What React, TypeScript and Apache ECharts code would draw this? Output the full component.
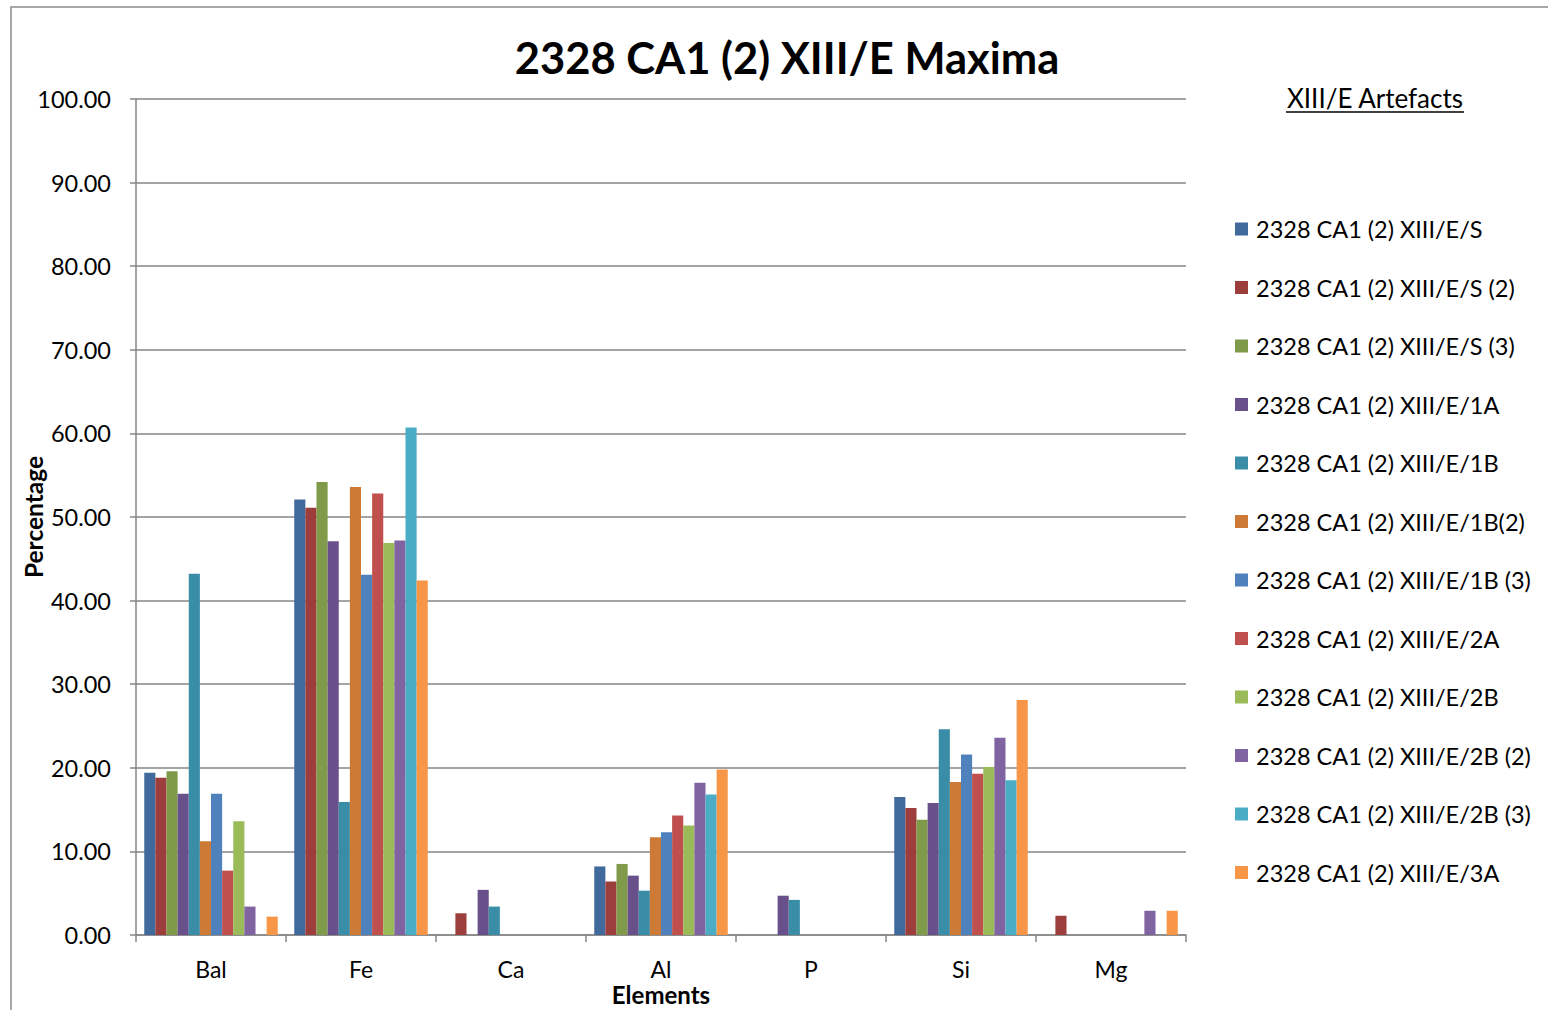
import React, { useEffect, useRef } from "react";
import * as echarts from "echarts";

const categories = ["Bal", "Fe", "Ca", "Al", "P", "Si", "Mg"];
const seriesNames = [
  "2328 CA1 (2) XIII/E/S",
  "2328 CA1 (2) XIII/E/S (2)",
  "2328 CA1 (2) XIII/E/S (3)",
  "2328 CA1 (2) XIII/E/1A",
  "2328 CA1 (2) XIII/E/1B",
  "2328 CA1 (2) XIII/E/1B(2)",
  "2328 CA1 (2) XIII/E/1B (3)",
  "2328 CA1 (2) XIII/E/2A",
  "2328 CA1 (2) XIII/E/2B",
  "2328 CA1 (2) XIII/E/2B (2)",
  "2328 CA1 (2) XIII/E/2B (3)",
  "2328 CA1 (2) XIII/E/3A",
];
const valS = [19.4, 52.1, 0, 8.2, 0, 16.5, 0];
const valS2 = [18.8, 51.1, 2.6, 6.4, 0, 15.2, 2.3];
const valS3 = [19.6, 54.2, 0, 8.5, 0, 13.8, 0];
const val1A = [16.9, 47.1, 5.4, 7.1, 4.7, 15.8, 0];
const val1B = [43.2, 15.9, 3.4, 5.3, 4.2, 24.6, 0];
const val1B2 = [11.2, 53.6, 0, 11.7, 0, 18.3, 0];
const val1B3 = [16.9, 43.1, 0, 12.3, 0, 21.6, 0];
const val2A = [7.7, 52.8, 0, 14.3, 0, 19.3, 0];
const val2B = [13.6, 46.9, 0, 13.1, 0, 20.1, 0];
const val2B2 = [3.4, 47.2, 0, 18.2, 0, 23.6, 2.9];
const val2B3 = [0, 60.7, 0, 16.8, 0, 18.5, 0];
const val3A = [2.2, 42.4, 0, 19.8, 0, 28.1, 2.9];
const seriesValues = [valS, valS2, valS3, val1A, val1B, val1B2, val1B3, val2A, val2B, val2B2, val2B3, val3A];
const colors = [
  "#3F6A9B", "#9C3E3C", "#7F9A49", "#68518A", "#3A8DA6", "#CC7A35",
  "#4F81BD", "#C0504D", "#9BBB59", "#8064A2", "#4BACC6", "#F79646",
];

const FONT = "Lato, 'Open Sans', sans-serif";

export default function App() {
  const ref = useRef<HTMLDivElement>(null);
  useEffect(() => {
    if (!ref.current) return;
    const chart = echarts.init(ref.current, null, { renderer: "svg" });
    chart.setOption({
      animation: false,
      backgroundColor: "#ffffff",
      color: colors,
      grid: { left: 136, top: 99, width: 1050, height: 836, containLabel: false },
      legend: {
        orient: "vertical",
        left: 1235,
        top: 217,
        padding: 0,
        itemWidth: 13,
        itemHeight: 13,
        itemGap: 34.5,
        icon: "rect",
        textStyle: { fontFamily: FONT, fontSize: 23.5, color: "#000", lineHeight: 23, padding: [0, 0, 0, 3] },
        data: seriesNames,
      },
      xAxis: {
        type: "category",
        data: categories,
        axisLine: { lineStyle: { color: "#868686", width: 1.5 } },
        axisTick: { show: true, length: 7, lineStyle: { color: "#868686", width: 1.5 } },
        axisLabel: { fontFamily: FONT, fontSize: 23, color: "#000", margin: 22 },
        splitLine: { show: false },
      },
      yAxis: {
        type: "value",
        min: 0,
        max: 100,
        interval: 10,
        axisLine: { show: true, lineStyle: { color: "#868686", width: 1.5 } },
        axisTick: { show: true, length: 6, lineStyle: { color: "#868686", width: 1.5 } },
        axisLabel: {
          fontFamily: FONT,
          fontSize: 23.5,
          color: "#000",
          margin: 25,
          formatter: (v: number) => v.toFixed(2),
        },
        splitLine: { show: true, lineStyle: { color: "#868686", width: 1.5 } },
      },
      series: seriesNames.map((name, i) => ({
        name,
        type: "bar",
        data: seriesValues[i],
        barGap: "0%",
        barCategoryGap: "11%",
        itemStyle: { color: colors[i] },
      })),
      graphic: [
        {
          type: "rect",
          shape: { x: 11, y: 7, width: 3000, height: 3000 },
          style: { fill: "none", stroke: "#8a8a8a", lineWidth: 1.5 },
          silent: true,
        },
        {
          type: "text",
          x: 787,
          y: 57,
          style: {
            text: "2328 CA1 (2) XIII/E Maxima",
            fontFamily: FONT,
            fontWeight: "bold",
            fontSize: 43.5,
            fill: "#000",
            textAlign: "center",
            textVerticalAlign: "middle",
          },
        },
        {
          type: "text",
          x: 1375,
          y: 98,
          style: {
            text: "XIII/E Artefacts",
            fontFamily: FONT,
            fontSize: 26,
            fill: "#000",
            textAlign: "center",
            textVerticalAlign: "middle",
          },
        },
        {
          type: "line",
          shape: { x1: 1286, y1: 112, x2: 1464, y2: 112 },
          style: { stroke: "#000", lineWidth: 1.5 },
        },
        {
          type: "text",
          x: 661,
          y: 994,
          style: {
            text: "Elements",
            fontFamily: FONT,
            fontWeight: "bold",
            fontSize: 24,
            fill: "#000",
            textAlign: "center",
            textVerticalAlign: "middle",
          },
        },
        {
          type: "text",
          x: 33,
          y: 517,
          rotation: Math.PI / 2,
          style: {
            text: "Percentage",
            fontFamily: FONT,
            fontWeight: "bold",
            fontSize: 24.5,
            fill: "#000",
            textAlign: "center",
            textVerticalAlign: "middle",
          },
        },
      ],
    });
    return () => chart.dispose();
  }, []);
  return (
    <div
      ref={ref}
      style={{ position: "absolute", left: 0, top: 0, width: 1548, height: 1010 }}
    />
  );
}
